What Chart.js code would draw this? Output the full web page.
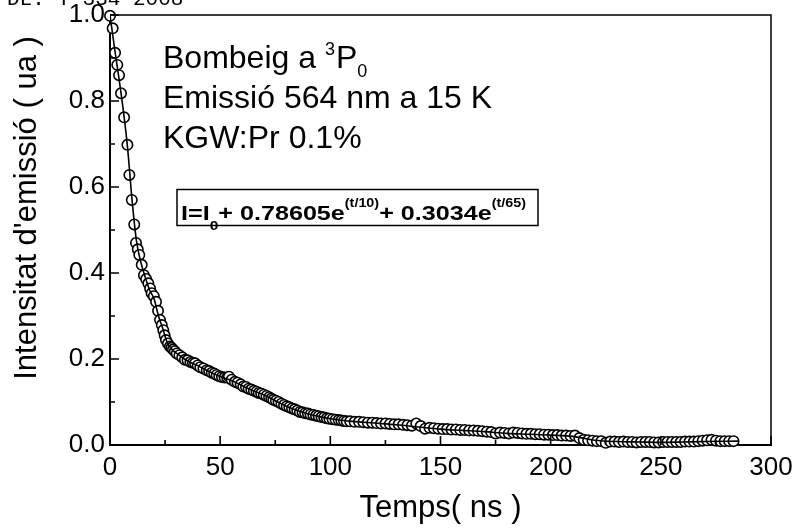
<!DOCTYPE html>
<html>
<head>
<meta charset="utf-8">
<script src="https://cdn.jsdelivr.net/npm/chart.js@4.4.1/dist/chart.umd.min.js"></script>
<style>
  html, body { margin: 0; padding: 0; background: #fff; }
  #wrap { width: 792px; height: 528px; position: relative; }
</style>
</head>
<body>
<div id="wrap"><canvas id="c" width="792" height="528"></canvas></div>
<script>
// Measured decay of the 564 nm emission (time in ns, intensity in a.u.)
const decayTime = [
  0.0, 1.2, 2.3, 3.3, 4.1, 5.0, 6.4, 7.9, 8.8, 9.9, 11.0, 11.8, 12.6, 13.3, 14.4, 15.4,
  16.4, 17.4, 18.2, 18.9, 19.9, 20.9, 21.8, 22.7, 23.5, 24.2, 24.8, 25.4, 26.3, 27.2,
  27.9, 28.6, 29.4, 30.3, 31.5, 32.8, 34.0, 35.2, 36.5, 37.6, 38.6, 39.8, 41.0, 42.4,
  43.9, 45.0, 46.2, 47.3, 48.4, 49.6, 50.8, 52.0, 53.2, 54.0, 55.2, 56.7, 57.9, 59.3,
  60.5, 61.7, 62.9, 64.1, 65.3, 66.5, 67.5, 68.6, 69.8, 71.0, 72.2, 73.2, 74.1, 75.3,
  76.5, 77.8, 79.0, 80.2, 81.4, 82.6, 83.8, 85.0, 86.2, 87.4, 88.6, 89.8, 91.0, 92.3,
  93.5, 94.7, 96.0, 97.2, 98.4, 99.6, 101.0, 102.4, 103.8, 105.0, 106.2, 107.4,
  109, 111, 113, 115, 117, 119, 121, 123, 125, 127, 129, 131, 133, 135, 137, 139,
  141, 143, 145, 147, 149, 151, 153, 155, 157, 159, 161, 163, 165, 167, 169, 171,
  173, 175, 177, 179, 181, 183, 185, 187, 189, 191, 193, 195, 197, 199, 201, 203,
  205, 207, 209, 211, 213, 215, 217, 219, 221, 223, 225, 227, 229, 231, 233, 235,
  237, 239, 241, 243, 245, 247, 249, 251, 253, 255, 257, 259, 261, 263, 265, 267,
  269, 271, 273, 275, 277, 279, 281, 283
];
const decayIntensity = [
  0.998, 0.969, 0.912, 0.884, 0.860, 0.818, 0.762, 0.698, 0.628, 0.570, 0.513, 0.470, 0.455, 0.442, 0.419, 0.395,
  0.386, 0.376, 0.364, 0.353, 0.346, 0.333, 0.312, 0.291, 0.279, 0.267, 0.255, 0.244, 0.236, 0.229,
  0.226, 0.222, 0.218, 0.213, 0.209, 0.204, 0.198, 0.197, 0.193, 0.191, 0.190, 0.185, 0.181, 0.178,
  0.174, 0.172, 0.168, 0.166, 0.163, 0.160, 0.158, 0.157, 0.157, 0.159, 0.152, 0.147, 0.145, 0.141,
  0.136, 0.135, 0.131, 0.129, 0.126, 0.124, 0.121, 0.120, 0.117, 0.114, 0.111, 0.108, 0.105, 0.103,
  0.100, 0.096, 0.093, 0.090, 0.088, 0.085, 0.083, 0.080, 0.077, 0.076, 0.074, 0.073, 0.071, 0.070,
  0.068, 0.067, 0.065, 0.064, 0.062, 0.061, 0.060, 0.059, 0.058, 0.057, 0.056, 0.055,
  0.055, 0.054, 0.054, 0.053, 0.052, 0.052, 0.051, 0.050, 0.050, 0.049, 0.048, 0.048, 0.047, 0.046, 0.045, 0.050,
  0.044, 0.038, 0.040, 0.039, 0.038, 0.037, 0.037, 0.036, 0.036, 0.035, 0.035, 0.034, 0.034, 0.033, 0.032, 0.031,
  0.030, 0.027, 0.029, 0.028, 0.027, 0.029, 0.028, 0.027, 0.026, 0.026, 0.025, 0.025, 0.024, 0.024, 0.023, 0.023,
  0.022, 0.022, 0.021, 0.022, 0.016, 0.012, 0.011, 0.010, 0.009, 0.009, 0.005, 0.008, 0.008, 0.007, 0.008, 0.007,
  0.007, 0.006, 0.007, 0.007, 0.007, 0.006, 0.006, 0.007, 0.007, 0.007, 0.007, 0.007, 0.008, 0.008, 0.008, 0.009,
  0.010, 0.011, 0.012, 0.010, 0.009, 0.009, 0.009, 0.009
];

// Bi-exponential fit curve through the decay
const fitTime = [
  0, 2, 4, 6, 8, 10, 12, 14, 16, 18, 20, 22, 24, 26, 28, 30, 35, 40, 45, 50, 55, 60, 65, 70,
  75, 80, 85, 90, 95, 100, 110, 120, 130, 140, 150, 160, 170, 180, 190, 200, 210, 220, 230,
  240, 250, 260, 270, 285
];
const fitIntensity = [
  1.000, 0.925, 0.855, 0.780, 0.690, 0.570, 0.475, 0.425, 0.390, 0.360, 0.340, 0.300, 0.270,
  0.238, 0.223, 0.214, 0.196, 0.184, 0.171, 0.159, 0.150, 0.138, 0.126, 0.116, 0.103, 0.090,
  0.080, 0.072, 0.066, 0.061, 0.055, 0.051, 0.047, 0.042, 0.037, 0.034, 0.031, 0.027, 0.025,
  0.023, 0.020, 0.011, 0.008, 0.007, 0.006, 0.007, 0.008, 0.009
];

// Axis ticks
const xTickValues = [0, 50, 100, 150, 200, 250, 300];
const xMinorTicks = [25, 75, 125, 175, 225, 275];
const yTickValues = [0.0, 0.2, 0.4, 0.6, 0.8, 1.0];
const yMinorTicks = [0.1, 0.3, 0.5, 0.7, 0.9];

// Texts
const headerText = 'DL: T 334 2008';
const xTitle = 'Temps( ns )';
const yTitle = "Intensitat d'emissió ( ua )";
const infoLines = ['Emissió 564 nm a 15 K', 'KGW:Pr 0.1%'];
const formulaParts = [
  ['I=I', 'main'], ['0', 'sub'], ['+ 0.78605e', 'main'], ['(t/10)', 'sup'],
  ['+ 0.3034e', 'main'], ['(t/65)', 'sup']
];

const SANS = '"Liberation Sans", Arial, sans-serif';

const frameAndTicks = {
  id: 'frameAndTicks',
  afterDatasetsDraw(chart) {
    const { ctx, chartArea: a, scales: { x, y } } = chart;
    ctx.save();
    ctx.strokeStyle = '#000';
    // top and right frame
    ctx.lineWidth = 1.5;
    ctx.beginPath();
    ctx.moveTo(a.left, a.top); ctx.lineTo(a.right, a.top); ctx.lineTo(a.right, a.bottom);
    ctx.stroke();
    // inward tick marks
    ctx.lineWidth = 1.6;
    ctx.beginPath();
    xTickValues.forEach(v => { const px = x.getPixelForValue(v); ctx.moveTo(px, a.bottom); ctx.lineTo(px, a.bottom - 9); });
    xMinorTicks.forEach(v => { const px = x.getPixelForValue(v); ctx.moveTo(px, a.bottom); ctx.lineTo(px, a.bottom - 5); });
    yTickValues.forEach(v => { const py = y.getPixelForValue(v); ctx.moveTo(a.left, py); ctx.lineTo(a.left + 9, py); });
    yMinorTicks.forEach(v => { const py = y.getPixelForValue(v); ctx.moveTo(a.left, py); ctx.lineTo(a.left + 5, py); });
    ctx.stroke();
    ctx.restore();
  }
};

const textLayer = {
  id: 'textLayer',
  afterDraw(chart) {
    const ctx = chart.ctx;
    const a = chart.chartArea;
    ctx.save();
    ctx.fillStyle = '#000';
    ctx.textBaseline = 'alphabetic';

    // archive stamp along the top edge
    ctx.font = '21px "Liberation Mono", monospace';
    ctx.textAlign = 'left';
    ctx.fillText(headerText, 7, 5);

    // axis titles
    ctx.font = '31px ' + SANS;
    ctx.textAlign = 'center';
    ctx.fillText(xTitle, (a.left + a.right) / 2, 517);
    ctx.save();
    ctx.translate(36, 208);
    ctx.rotate(-Math.PI / 2);
    ctx.fillText(yTitle, 0, 0);
    ctx.restore();

    // sample description
    ctx.textAlign = 'left';
    ctx.font = '32px ' + SANS;
    let xp = 163;
    ctx.fillText('Bombeig a ', xp, 68);
    xp += ctx.measureText('Bombeig a ').width;
    ctx.font = '18px ' + SANS;
    ctx.fillText('3', xp, 55);
    xp += ctx.measureText('3').width + 1;
    ctx.font = '32px ' + SANS;
    ctx.fillText('P', xp, 68);
    xp += ctx.measureText('P').width;
    ctx.font = '18px ' + SANS;
    ctx.fillText('0', xp, 77);
    ctx.font = '32px ' + SANS;
    infoLines.forEach((line, i) => ctx.fillText(line, 163, 108 + i * 40));

    // fit formula in a box
    ctx.lineWidth = 1.5;
    ctx.strokeStyle = '#000';
    ctx.strokeRect(177, 189.5, 361, 36);
    const fonts = { main: 'bold 21px ' + SANS, sub: 'bold 13px ' + SANS, sup: 'bold 12px ' + SANS };
    const shift = { main: 0, sub: 10, sup: -13 };
    let total = 0;
    formulaParts.forEach(([t, k]) => { ctx.font = fonts[k]; total += ctx.measureText(t).width; });
    const x0 = 181, x1 = 526, base = 220;
    const sx = (x1 - x0) / total;
    ctx.save();
    ctx.translate(x0, base);
    ctx.scale(sx, 1);
    let fx = 0;
    formulaParts.forEach(([t, k]) => {
      ctx.font = fonts[k];
      ctx.fillText(t, fx, shift[k]);
      fx += ctx.measureText(t).width;
    });
    ctx.restore();
    ctx.restore();
  }
};

// keep the plot frame fixed: no extra room reserved for edge tick labels
const fixScale = size => s => {
  if (s.isHorizontal()) s.height = size; else s.width = size;
  s.paddingLeft = 0; s.paddingRight = 0; s.paddingTop = 0; s.paddingBottom = 0;
};

new Chart(document.getElementById('c'), {
  type: 'scatter',
  data: {
    datasets: [
      {
        label: 'fit',
        data: fitTime.map((t, i) => ({ x: t, y: fitIntensity[i] })),
        showLine: true,
        pointRadius: 0,
        borderColor: '#000',
        borderWidth: 1.6,
        cubicInterpolationMode: 'monotone',
        order: 0
      },
      {
        label: 'decay',
        data: decayTime.map((t, i) => ({ x: t, y: decayIntensity[i] })),
        showLine: false,
        pointStyle: 'circle',
        pointRadius: 5.2,
        borderWidth: 1.6,
        borderColor: '#000',
        backgroundColor: '#fff',
        clip: false,
        order: 1
      }
    ]
  },
  options: {
    responsive: false,
    animation: false,
    devicePixelRatio: 1,
    events: [],
    layout: { padding: { left: 0, right: 21, top: 15, bottom: 0 } },
    plugins: { legend: { display: false }, tooltip: { enabled: false }, title: { display: false } },
    scales: {
      x: {
        type: 'linear', min: 0, max: 300,
        afterFit: fixScale(83),
        afterBuildTicks: s => { s.ticks = xTickValues.map(v => ({ value: v })); },
        grid: { display: true, drawOnChartArea: false, drawTicks: false },
        border: { display: true, color: '#000', width: 2 },
        ticks: { font: { family: SANS, size: 26 }, color: '#000', padding: 7, maxRotation: 0 }
      },
      y: {
        type: 'linear', min: 0, max: 1.0,
        afterFit: fixScale(110),
        afterBuildTicks: s => { s.ticks = yTickValues.map(v => ({ value: v })); },
        grid: { display: true, drawOnChartArea: false, drawTicks: false },
        border: { display: true, color: '#000', width: 2 },
        ticks: { font: { family: SANS, size: 26 }, color: '#000', padding: 5, callback: v => v.toFixed(1) }
      }
    }
  },
  plugins: [frameAndTicks, textLayer]
});
</script>
</body>
</html>
